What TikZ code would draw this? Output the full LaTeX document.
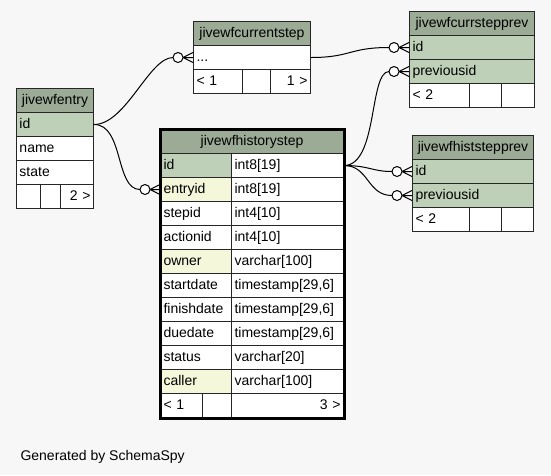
\documentclass[tikz,border=0pt]{standalone}
\usepackage{fontspec}
\setmainfont{Liberation Sans}
\usepackage{xcolor}
\definecolor{bgc}{HTML}{F7F7F7}
\definecolor{hdc}{HTML}{9BAB96}
\definecolor{pkc}{HTML}{BED1B8}
\definecolor{fkc}{HTML}{F4F7DA}

\begin{document}
\begin{tikzpicture}[x=1pt,y=-1pt,
every node/.style={font=\fontsize{14}{16}\selectfont},
cell/.style={draw=black!85,line width=1pt,fill=white,anchor=north west,
  inner xsep=3pt,inner ysep=0pt,minimum height=24pt,
  text height=10pt,text depth=3pt,align=left,text width=#1},
hdr/.style={cell=#1,fill=hdc,align=center},
rel/.style={line width=1pt},
pics/crow/.style={code={
  \draw[rel] (-10,0) -- (0,-5) (-10,0) -- (0,0) (-10,0) -- (0,5);
  \draw[rel,fill=white] (-15,0) circle[radius=5pt];
}}]
\fill[bgc] (0,0) rectangle (551,475);
\useasboundingbox (0,0) rectangle (551,475);

% jivewfentry
\node[hdr=71] (e-hd) at (16,88) {jivewfentry};
\node[cell=71,fill=pkc] (e-id) at (16,112) {id};
\node[cell=71] (e-name) at (16,136) {name};
\node[cell=71] (e-state) at (16,160) {state};
\node[cell=18] (e-f1) at (16,184) {};
\node[cell=14] (e-f2) at (40,184) {};
\node[cell=27,align=right] (e-f3) at (60,184) {2 >};

% jivewfcurrentstep
\node[hdr=111] (c-hd) at (193,21) {jivewfcurrentstep};
\node[cell=111] (c-dots) at (193,45) {...};
\node[cell=43] (c-f1) at (193,69) {< 1};
\node[cell=22] (c-f2) at (242,69) {};
\node[cell=34,align=right] (c-f3) at (270,69) {1 >};

% jivewfhistorystep
\node[hdr=177] (h-hd) at (160,129) {jivewfhistorystep};
\foreach \nm/\ty/\col [count=\i from 0] in {id/int8[19]/pkc,
  entryid/int8[19]/fkc, stepid/int4[10]/white, actionid/int4[10]/white,
  owner/varchar[100]/fkc, startdate/{timestamp[29,6]}/white,
  finishdate/{timestamp[29,6]}/white, duedate/{timestamp[29,6]}/white,
  status/varchar[20]/white, caller/varchar[100]/fkc}{
  \node[cell=65,fill=\col] (h-\nm) at (160,{153+24*\i}) {\nm};
  \node[cell=106] (h-\nm-t) at (231,{153+24*\i}) {\ty};
}
\node[cell=36] (h-f1) at (160,393) {< 1};
\node[cell=23] (h-f2) at (202,393) {};
\node[cell=106,align=right] (h-f3) at (231,393) {3 >};
\draw[line width=3pt] (h-hd.north west) rectangle (h-f3.south east);

% jivewfcurrstepprev
\node[hdr=119] (p-hd) at (409,11) {jivewfcurrstepprev};
\node[cell=119,fill=pkc] (p-id) at (409,35) {id};
\node[cell=119,fill=pkc] (p-prev) at (409,59) {previousid};
\node[cell=54] (p-f1) at (409,83) {< 2};
\node[cell=26] (p-f2) at (469,83) {};
\node[cell=27] (p-f3) at (501,83) {};

% jivewfhiststepprev
\node[hdr=115] (q-hd) at (412,135) {jivewfhiststepprev};
\node[cell=115,fill=pkc] (q-id) at (412,159) {id};
\node[cell=115,fill=pkc] (q-prev) at (412,183) {previousid};
\node[cell=51] (q-f1) at (412,207) {< 2};
\node[cell=26] (q-f2) at (469,207) {};
\node[cell=26] (q-f3) at (501,207) {};

% relations
\draw[rel] (e-id.east) .. controls +(32,0) and +(-24,0) .. ([xshift=-20pt]c-dots.west);
\draw[rel] (e-id.east) .. controls +(30,0) and +(-25,0) .. ([xshift=-20pt]h-entryid.west);
\draw[rel] (c-dots.east) .. controls +(40,0) and +(-40,0) .. ([xshift=-20pt]p-id.west);
\draw[rel] (h-id-t.east) .. controls +(34,0) and +(-20,0) .. ([xshift=-20pt]p-prev.west);
\draw[rel] (h-id-t.east) .. controls +(25,0) and +(-20,0) .. ([xshift=-20pt]q-id.west);
\draw[rel] (h-id-t.east) .. controls +(25,0) and +(-25,0) .. ([xshift=-20pt]q-prev.west);
\pic at (c-dots.west) {crow};
\pic at (h-entryid.west) {crow};
\pic at (p-id.west) {crow};
\pic at (p-prev.west) {crow};
\pic at (q-id.west) {crow};
\pic at (q-prev.west) {crow};

\node[anchor=base west] (gen) at (17,460) {Generated by SchemaSpy};
\end{tikzpicture}
\end{document}
